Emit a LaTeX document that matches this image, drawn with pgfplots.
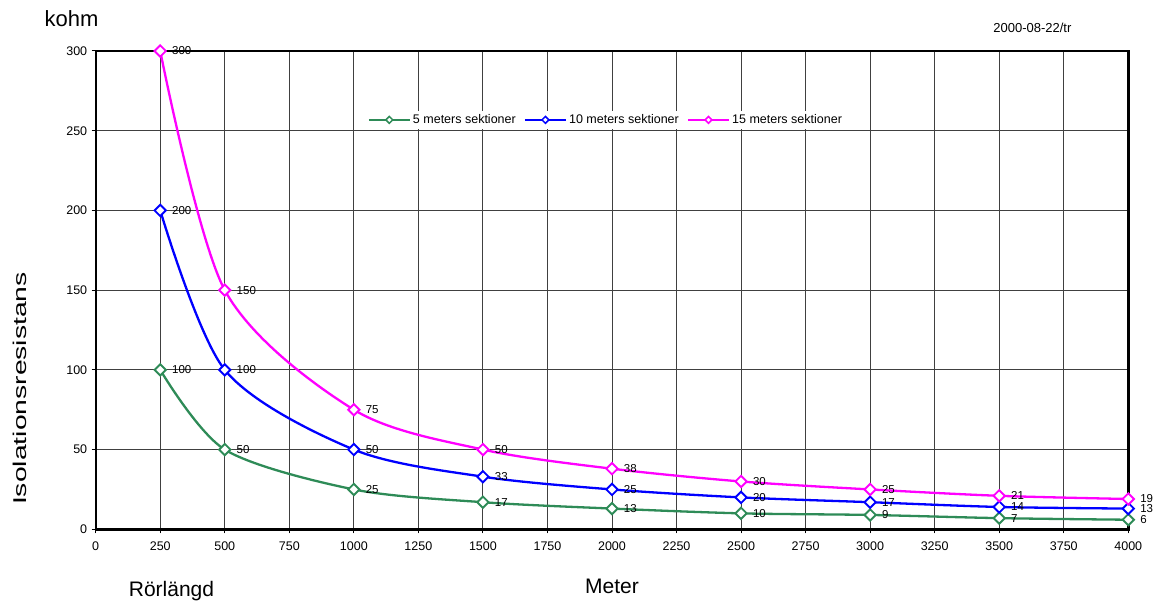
\documentclass[border=0pt]{standalone}
\usepackage{fontspec}
\setmainfont{Liberation Sans}
\usepackage{pgfplots}
\pgfplotsset{compat=1.18}
\definecolor{sgreen}{RGB}{46,139,87}
\definecolor{mymag}{RGB}{255,0,255}
\begin{document}
\begin{tikzpicture}[x=1pt,y=1pt]
\useasboundingbox (0,0) rectangle (1160,606);
\begin{axis}[
  at={(95.7pt,76.7pt)}, anchor=south west,
  scale only axis, width=1032.6pt, height=478.3pt,
  xmin=0, xmax=4000, ymin=0, ymax=300,
  xtick={0,250,...,4000}, ytick={0,50,...,300},
  grid=major, major grid style={black!75, line width=1pt},
  axis line style={black, line width=2.4pt},
  tick style={black, line width=1pt},
  tick align=outside, major tick length=4pt,
  xtick pos=bottom, ytick pos=left,
  ticklabel style={font=\fontsize{12.5}{14}\selectfont},
  xticklabel style={yshift=-5pt},
  yticklabel style={xshift=-1pt},
  /pgf/number format/assume math mode=true,
  /pgf/number format/1000 sep={},
  clip=false,
  smooth, tension=0.5,
  every axis plot/.append style={line width=2.3pt},
  mark=square*, mark size=4pt,
  mark options={rotate=45, fill=white, solid, line width=1.9pt},
  nodes near coords,
  every node near coord/.append style={anchor=west, xshift=10pt, inner sep=1pt, text=black, font=\fontsize{11.5}{12}\selectfont},
  legend style={at={(0.494,0.856)}, anchor=center, draw=none, fill=white,
    font=\fontsize{12.5}{14}\selectfont, inner sep=2pt,
    /tikz/every even column/.append style={column sep=6pt}},
  legend columns=3,
  legend cell align=left,
  legend image code/.code={\draw[mark repeat=2, mark phase=2, #1, mark size=2.4pt, mark options={rotate=45, fill=white, solid, line width=1.5pt}] plot coordinates {(0pt,0pt) (20.5pt,0pt) (41pt,0pt)};},
]
\addplot[color=sgreen, mark=square*] coordinates {(250,100) (500,50) (1000,25) (1500,17) (2000,13) (2500,10) (3000,9) (3500,7) (4000,6)};
\addlegendentry{5 meters sektioner}
\addplot[color=blue, mark=square*] coordinates {(250,200) (500,100) (1000,50) (1500,33) (2000,25) (2500,20) (3000,17) (3500,14) (4000,13)};
\addlegendentry{10 meters sektioner}
\addplot[color=mymag, mark=square*] coordinates {(250,300) (500,150) (1000,75) (1500,50) (2000,38) (2500,30) (3000,25) (3500,21) (4000,19)};
\addlegendentry{15 meters sektioner}
\end{axis}
\node[anchor=base, font=\fontsize{22}{26}\selectfont] at (71.5,579) {kohm};
\node[anchor=base, font=\fontsize{13}{15}\selectfont] at (1032.4,573) {2000-08-22/tr};
\node[anchor=base, font=\fontsize{21}{24}\selectfont] at (612,13) {Meter};
\node[anchor=base, font=\fontsize{21}{24}\selectfont] at (171.5,9.3) {Rörlängd};
\node[anchor=base, rotate=90, font=\fontsize{18.5}{22}\selectfont] at (27,217.5) {\scalebox{1.53}[1]{Isolationsresistans}};
\end{tikzpicture}
\end{document}
